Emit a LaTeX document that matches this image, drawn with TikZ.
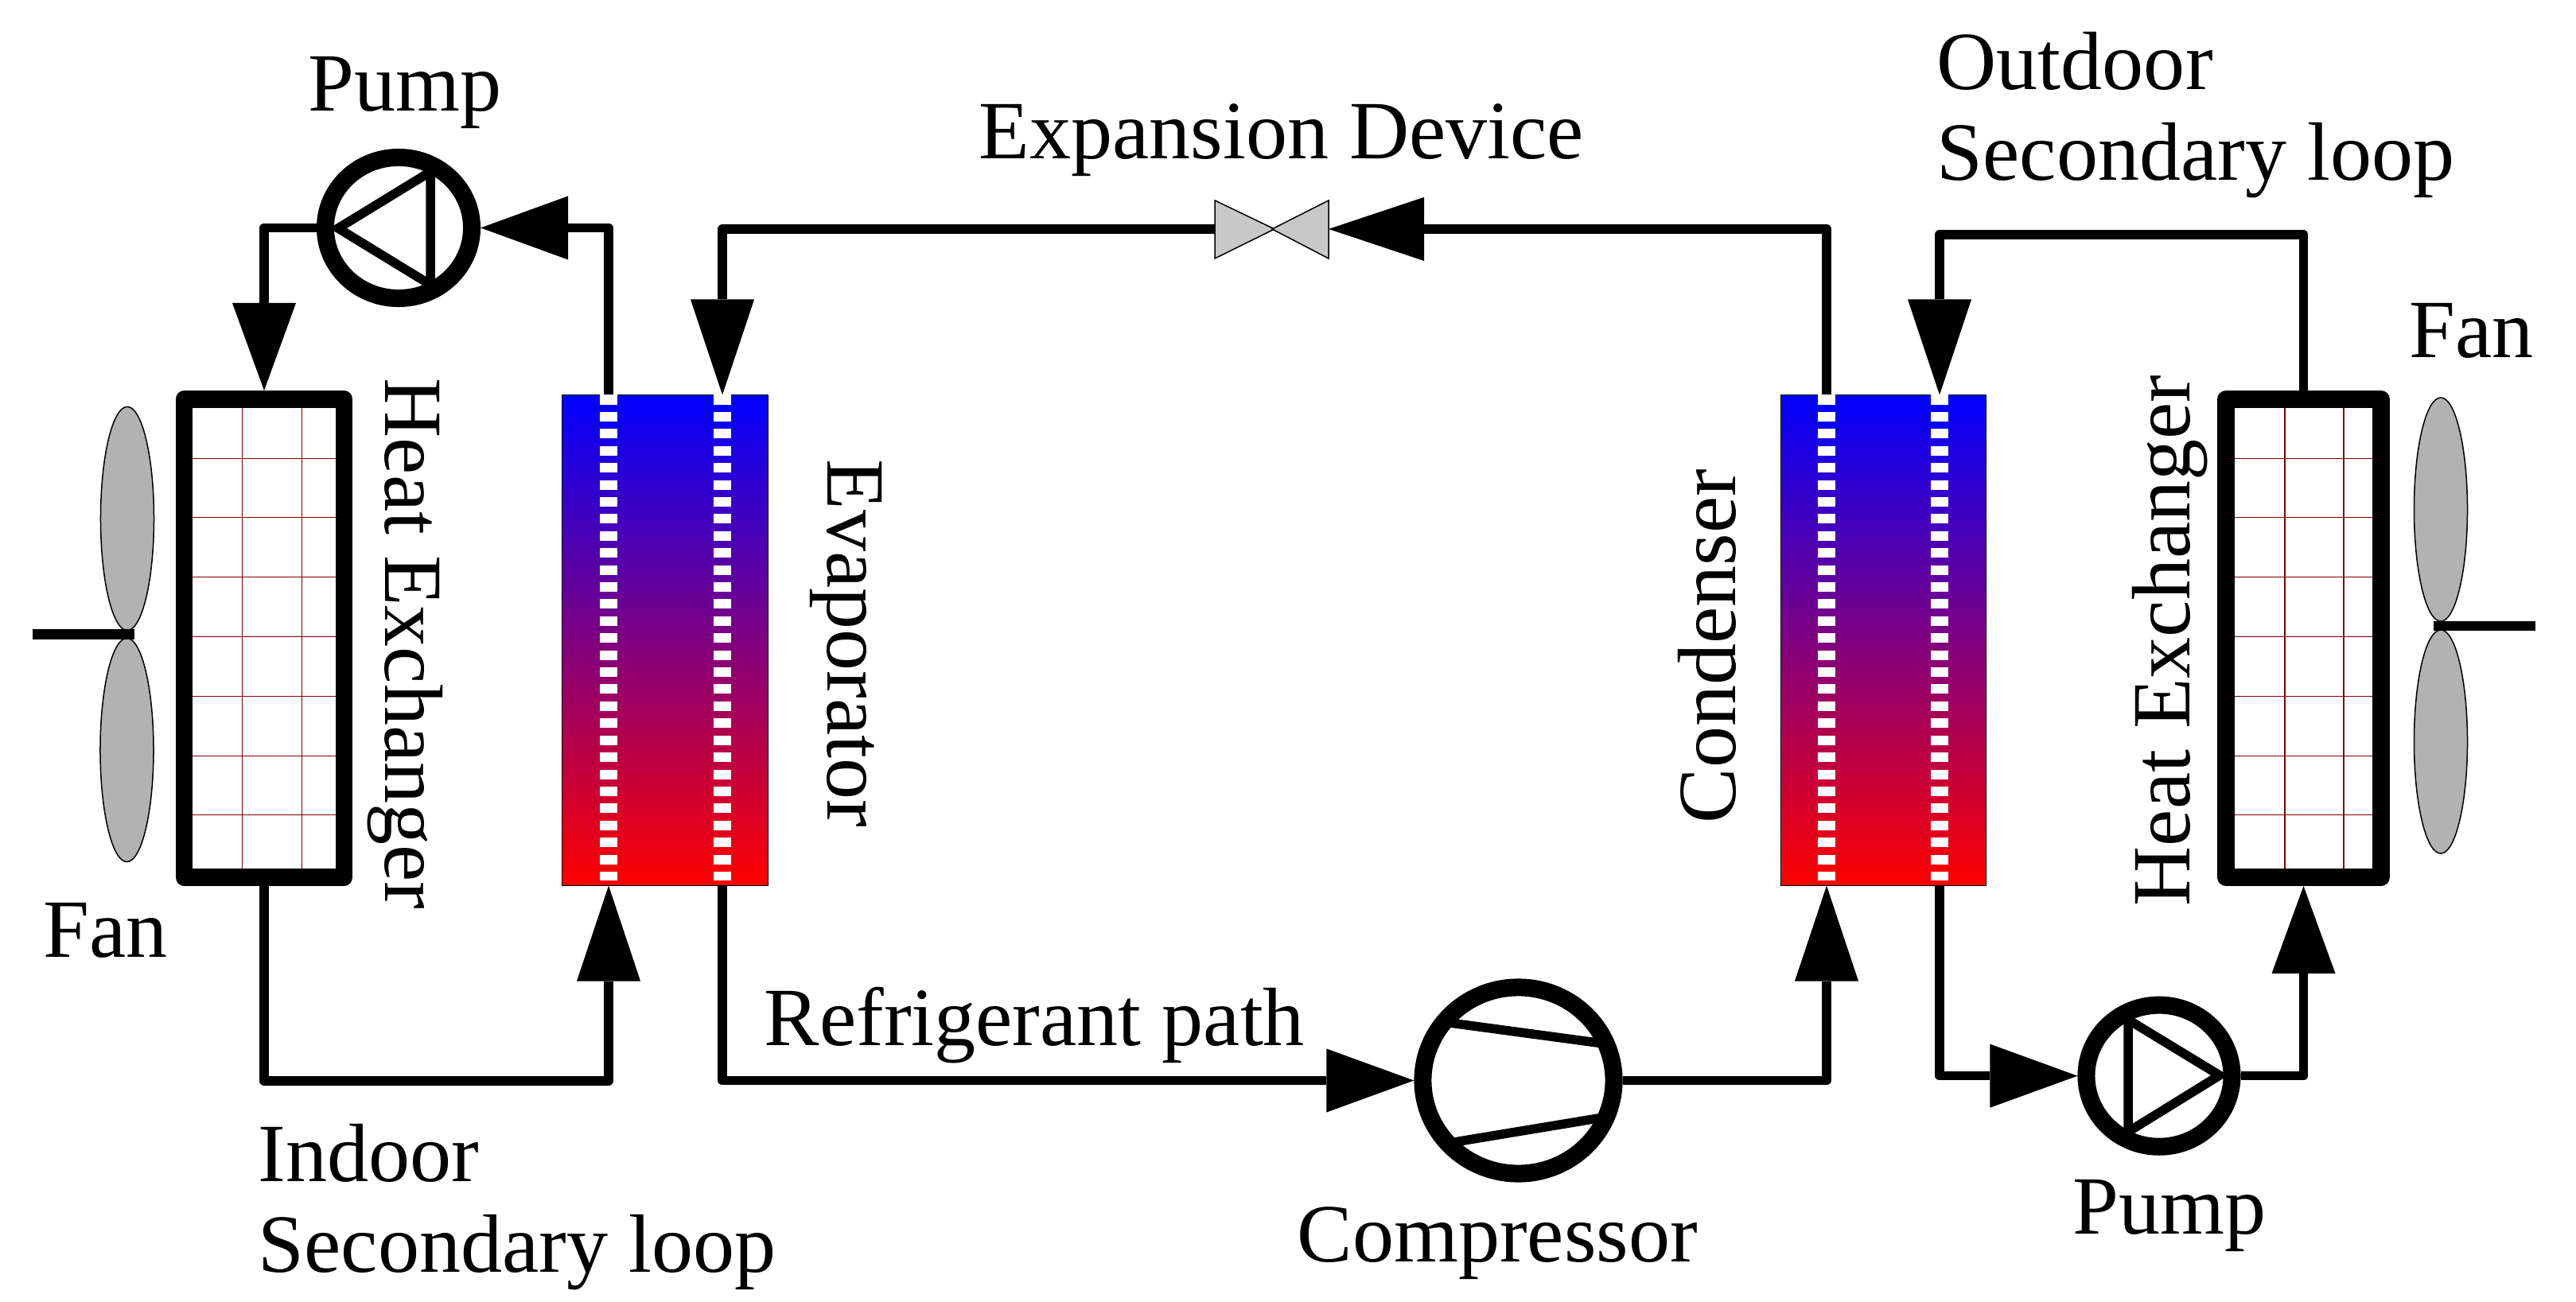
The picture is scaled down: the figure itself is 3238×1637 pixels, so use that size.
\documentclass[tikz,border=0pt]{standalone}
\usepackage{fontspec}
\setmainfont{Liberation Serif}
\usepackage{xcolor}
\usetikzlibrary{arrows.meta,shapes.geometric}

\definecolor{gridred}{HTML}{800000}
\definecolor{bladegray}{HTML}{B2B2B2}
\definecolor{valvegray}{HTML}{C8C8C8}

\tikzset{
  label/.style={inner sep=0pt, anchor=base west, font=\fontsize{29.6}{30}\selectfont},
  pipe/.style={line width=0.115cm, line join=round},
  flowlong/.style={pipe, -{Triangle[length=1.2cm,width=0.8cm,line width=0pt]}},
  flowshort/.style={pipe, -{Triangle[length=1.1cm,width=0.8cm,line width=0pt]}},
  coilbox/.style={rectangle, draw, line width=0.215cm, line join=round, minimum width=2.01cm, minimum height=6.01cm, inner sep=0pt},
  plate/.style={rectangle, draw, line width=0.01cm, top color=blue, bottom color=red, minimum width=2.58cm, minimum height=6.17cm, inner sep=0pt, outer sep=0pt},
  port/.style={white, line width=0.22cm, dash pattern=on 0.12cm off 0.094cm},
  ring/.style={ellipse, draw, line width=0.22cm, inner sep=0pt},
  vane/.style={line width=0.115cm, line join=miter},
  blade/.style={ellipse, draw, fill=bladegray, line width=0.015cm, inner sep=0pt, minimum width=0.67cm, minimum height=2.81cm},
  valveside/.style={fill=valvegray, draw, line width=0.015cm},
  gridline/.style={gridred, line width=0.014cm},
  shaft/.style={line width=0.12cm}
}

\begin{document}
\begin{tikzpicture}[x=0.01cm,y=-0.01cm]
  \useasboundingbox (0,0) rectangle (3238,1637);

  % Grid of the two air coils
  \foreach \y in {576.5,650.6,725.5,800.5,875.6,950.6,1024.4} {
    \draw[gridline] (242,\y) -- (422,\y);
    \draw[gridline] (2809,\y) -- (2982,\y);
  }
  \foreach \x in {304.5,379.5} \draw[gridline] (\x,513) -- (\x,1092);
  \foreach \x in {2872,2946} \draw[gridline] (\x,513) -- (\x,1092);

  % Air coils
  \node[coilbox] (hxleft) at (332,802.5) {};
  \node[coilbox, minimum width=1.95cm] (hxright) at (2895.5,802.5) {};

  % Plates
  \node[plate] (evap) at (836,805) {};
  \node[plate] (cond) at (2367.3,805) {};
  \coordinate (evapA) at (765,496.5);
  \coordinate (evapB) at (908,496.5);
  \coordinate (evapC) at (765,1113.5);
  \coordinate (evapD) at (908,1113.5);
  \coordinate (condA) at (2296,496.5);
  \coordinate (condB) at (2438,496.5);
  \coordinate (condC) at (2296,1113.5);
  \coordinate (condD) at (2438,1113.5);
  \draw[port] (evapA) -- (765,1107);
  \draw[port] (evapB) -- (908,1107);
  \draw[port] (condA) -- (2296,1107);
  \draw[port] (condB) -- (2438,1107);

  % Pumps and compressor
  \node[ring, minimum width=1.84cm, minimum height=1.77cm] (pumpleft) at (501,286.5) {};
  \node[ring, minimum width=1.83cm, minimum height=1.78cm] (pumpright) at (2714,1352.7) {};
  \node[ring, minimum width=2.40cm, minimum height=2.34cm] (comp) at (1908.5,1358.5) {};
  \draw[vane] (425,287) -- (541,216) -- (541,358) -- cycle;
  \draw[vane] (2790,1352) -- (2675,1282) -- (2675,1423) -- cycle;
  \draw[vane] (1815,1285) -- (2015,1312);
  \draw[vane] (1822,1437) -- (2015,1405);

  % Secondary loops
  \draw[flowlong] (hxleft.south) |- (765,1359) -- (evapC);
  \draw[flowshort] (evapA) |- (pumpleft.east);
  \draw[flowshort] (pumpleft.west) -| (hxleft.north);
  \draw[flowshort] (condD) |- (pumpright.west);
  \draw[flowshort] (pumpright.east) -| (hxright.south);
  \draw[flowlong] (hxright.north) |- (2438,295) -- (condB);

  % Refrigerant path
  \coordinate (valveW) at (1527,288);
  \coordinate (valveE) at (1670,288);
  \draw[flowshort] (evapD) |- (comp.west);
  \draw[flowlong] (comp.east) -| (condC);
  \draw[flowlong] (condA) |- (valveE);
  \draw[flowlong] (valveW) -| (evapB);
  \draw[valveside] (valveW) ++(0,-36) -- ++(75,36) -- ++(-75,37) -- cycle;
  \draw[valveside] (valveE) ++(0,-36) -- ++(-71,36) -- ++(71,37) -- cycle;

  % Fans
  \node[blade] (bladeA) at (160,652) {};
  \node[blade] (bladeB) at (159.5,943) {};
  \node[blade] (bladeC) at (3068,640.5) {};
  \node[blade] (bladeD) at (3068,932.5) {};
  \coordinate (shaftA) at (41,797.5);
  \coordinate (shaftB) at (3187,787.5);
  \draw[shaft] (shaftA) -- (169,797.5);
  \draw[shaft] (shaftB) -- (3058.5,787.5);

  % Labels
  \node[label] (pumplabelA) at (387,140) {Pump};
  \node[label] (expansion) at (1230,200) {Expansion Device};
  \node[label] (outdoorA) at (2434,113) {Outdoor};
  \node[label] (outdoorB) at (2434,227) {Secondary loop};
  \node[label] (fanlabelA) at (3028,450) {Fan};
  \node[label] (fanlabelB) at (54,1203) {Fan};
  \node[label] (indoorA) at (324,1485) {Indoor};
  \node[label] (indoorB) at (324,1599) {Secondary loop};
  \node[label] (refrigerant) at (960,1314) {Refrigerant path};
  \node[label] (compressor) at (1630,1586) {Compressor};
  \node[label] (pumplabelB) at (2605,1551) {Pump};
  \node[label, rotate=-90] (hxlabelA) at (484,475) {Heat Exchanger};
  \node[label, rotate=-90] (evaplabel) at (1040,577) {Evaporator};
  \node[label, rotate=90] (condlabel) at (2181,1036) {Condenser};
  \node[label, rotate=90] (hxlabelB) at (2752,1140) {Heat Exchanger};
\end{tikzpicture}
\end{document}
